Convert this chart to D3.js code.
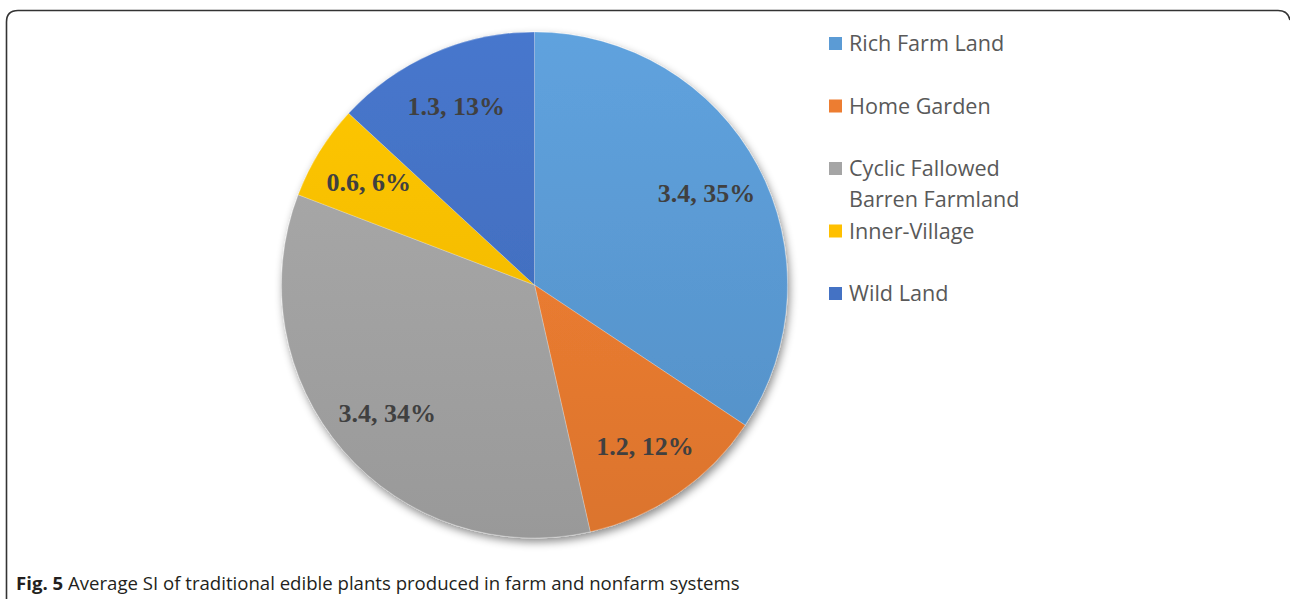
<!DOCTYPE html>
<html><head><meta charset="utf-8">
<script src="https://cdn.jsdelivr.net/npm/d3@7/dist/d3.min.js"></script>
<style>body{margin:0;background:#fff}svg{display:block}</style>
</head><body><svg id="c" width="1290" height="599"></svg>
<script>
const categories = ["Rich Farm Land","Home Garden","Cyclic Fallowed Barren Farmland","Inner-Village","Wild Land"];
const legendLines = [["Rich Farm Land"],["Home Garden"],["Cyclic Fallowed","Barren Farmland"],["Inner-Village"],["Wild Land"]];
const values = [3.4,1.2,3.4,0.6,1.3];
const percentLabels = ["35%","12%","34%","6%","13%"];
const colors = ["#5B9BD5","#ED7D31","#A5A5A5","#FFC000","#4472C4"];

const svg = d3.select("#c");
const cx=534.5, cy=285, R=253;

// border
svg.append("path").attr("fill","none").attr("stroke","#333").attr("stroke-width",1.6)
  .attr("d",`M6.5,620 L6.5,22 Q6.5,10.5 18,10.5 L1278,10.5 Q1288,10.5 1290,20`);

const defs = svg.append("defs");
const f = defs.append("filter").attr("id","sh").attr("x","-20%").attr("y","-20%").attr("width","140%").attr("height","140%");
f.append("feDropShadow").attr("dx",2).attr("dy",4).attr("stdDeviation",4).attr("flood-color","#000").attr("flood-opacity",0.45);

colors.forEach((c,i)=>{
  const g = defs.append("linearGradient").attr("id","g"+i).attr("gradientUnits","userSpaceOnUse")
    .attr("x1",0).attr("y1",-R).attr("x2",0).attr("y2",R);
  g.append("stop").attr("offset","0").attr("stop-color",d3.color(c).brighter(0.12));
  g.append("stop").attr("offset","1").attr("stop-color",d3.color(c).darker(0.22));
});

const pie = d3.pie().sort(null).value(d=>d)(values);
const arc = d3.arc().innerRadius(0).outerRadius(R);
const labelArc = d3.arc().innerRadius(195).outerRadius(195);

const gp = svg.append("g").attr("transform",`translate(${cx},${cy})`);
const shadowG = gp.append("g").attr("filter","url(#sh)");
shadowG.selectAll("path").data(pie).join("path").attr("d",arc)
  .attr("fill",(d,i)=>`url(#g${i})`)
  .attr("stroke","rgba(255,255,255,0.3)").attr("stroke-width",0.8);

gp.selectAll("text.lbl").data(pie).join("text").attr("class","lbl")
  .attr("transform",d=>`translate(${labelArc.centroid(d)})`)
  .attr("text-anchor","middle").attr("dy","0.35em")
  .attr("font-family","'Liberation Serif','Times New Roman',serif").attr("font-weight","bold")
  .attr("font-size",26).attr("fill","#404040")
  .text((d,i)=>`${values[i]}, ${percentLabels[i]}`);

// legend
const lg = svg.append("g");
legendLines.forEach((lines,i)=>{
  const by = 51 + i*62.5;
  lg.append("rect").attr("x",829).attr("y",by-14).attr("width",13).attr("height",13).attr("fill",colors[i]);
  lines.forEach((t,j)=>{
    lg.append("text").attr("x",849).attr("y",by+j*31)
      .attr("font-family","'Open Sans',sans-serif").attr("font-size",21.6).attr("fill","#595959").text(t);
  });
});

// caption
const cap = svg.append("text").attr("x",16).attr("y",590).attr("font-family","'Open Sans',sans-serif")
  .attr("font-size",18.6).attr("fill","#231f20");
cap.append("tspan").attr("font-weight","bold").text("Fig. 5");
cap.append("tspan").text(" Average SI of traditional edible plants produced in farm and nonfarm systems");
</script></body></html>
